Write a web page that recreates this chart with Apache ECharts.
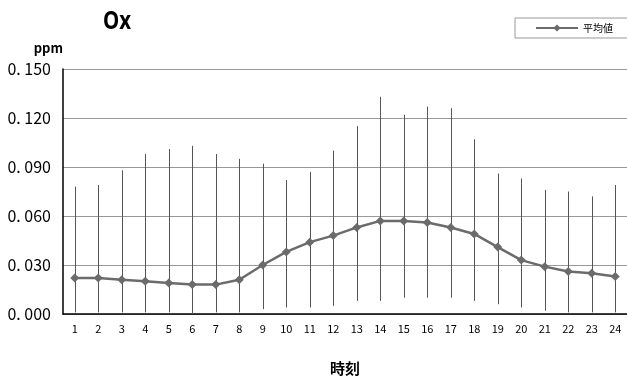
<!DOCTYPE html>
<html>
<head>
<meta charset="utf-8">
<script src="https://cdn.jsdelivr.net/npm/echarts@6/dist/echarts.min.js"></script>
<style>
html,body{margin:0;padding:0;background:#fff;}
#c{width:627px;height:380px;}
</style>
</head>
<body>
<div id="c"></div>
<script>
var hours = ['1','2','3','4','5','6','7','8','9','10','11','12','13','14','15','16','17','18','19','20','21','22','23','24'];
var meanValues = [0.022,0.022,0.021,0.020,0.019,0.018,0.018,0.021,0.030,0.038,0.044,0.048,0.053,0.057,0.057,0.056,0.053,0.049,0.041,0.033,0.029,0.026,0.025,0.023];
var maxValues = [0.078,0.079,0.088,0.098,0.101,0.103,0.098,0.095,0.092,0.082,0.087,0.100,0.115,0.133,0.122,0.127,0.126,0.107,0.086,0.083,0.076,0.075,0.072,0.079];
var minValues = [0.001,0.001,0.001,0.001,0.001,0.000,0.001,0.001,0.003,0.004,0.004,0.005,0.008,0.008,0.010,0.010,0.010,0.008,0.006,0.004,0.002,0.001,0.001,0.001];

var rangeData = hours.map(function(h, i){ return [i, minValues[i], maxValues[i]]; });

var chart = echarts.init(document.getElementById('c'), null, {renderer:'canvas'});
chart.setOption({
  animation: false,
  backgroundColor: '#fff',
  graphic: [{
    type: 'text',
    left: 103, top: 9,
    scaleX: 0.82,
    style: {text: 'Ox', fontFamily: 'Noto Sans', fontWeight: 'bold', fontSize: 25, fill: '#000'}
  }],
  legend: {
    data: ['平均値'],
    left: 515, top: 18,
    padding: [5, 40, 5, 20],
    borderColor: '#999', borderWidth: 1, borderRadius: 0,
    itemWidth: 42, itemHeight: 9, itemGap: 5,
    textStyle: {fontFamily: 'Noto Sans CJK JP', fontSize: 10, color: '#000'}
  },
  grid: {left: 63, right: 0, top: 69, bottom: 66, outerBoundsMode: 'none', containLabel: false},
  xAxis: {
    type: 'category',
    data: hours,
    boundaryGap: true,
    name: '時刻',
    nameLocation: 'middle',
    nameGap: 47,
    nameTextStyle: {fontFamily: 'Noto Sans CJK JP', fontWeight: 'bold', fontSize: 15, color: '#000'},
    axisLine: {lineStyle: {color: '#000', width: 1.5}},
    axisTick: {inside: true, length: 3, lineStyle: {color: '#777'}},
    axisLabel: {fontFamily: 'Noto Sans CJK JP', fontSize: 11, color: '#000', margin: 9, interval: 0},
    splitLine: {show: false}
  },
  yAxis: {
    type: 'value',
    min: 0, max: 0.15, interval: 0.03,
    name: 'ppm',
    nameLocation: 'end',
    nameGap: 14,
    nameTextStyle: {fontFamily: 'Noto Sans CJK JP', fontWeight: 'bold', fontSize: 13, color: '#000', align: 'right'},
    axisLine: {show: true, lineStyle: {color: '#000', width: 1.5}},
    axisTick: {show: false},
    axisLabel: {
      fontFamily: 'Noto Sans CJK JP', fontSize: 16, color: '#000', margin: 12,
      formatter: function(v){ return v.toFixed(3).replace('.', '. '); }
    },
    splitLine: {lineStyle: {color: '#999', width: 1}}
  },
  series: [
    {
      name: 'range',
      type: 'custom',
      data: rangeData,
      encode: {x: 0, y: [1, 2]},
      renderItem: function(params, api){
        var x = api.value(0);
        var p1 = api.coord([x, api.value(1)]);
        var p2 = api.coord([x, api.value(2)]);
        return {
          type: 'line',
          shape: {x1: Math.round(p1[0]) + 0.5, y1: p1[1], x2: Math.round(p2[0]) + 0.5, y2: p2[1]},
          style: {stroke: '#555', lineWidth: 1}
        };
      },
      z: 1
    },
    {
      name: '平均値',
      type: 'line',
      data: meanValues,
      symbol: 'diamond',
      symbolSize: 9,
      lineStyle: {color: '#6b6b6b', width: 2.5},
      itemStyle: {color: '#6b6b6b'},
      z: 3
    }
  ]
});
</script>
</body>
</html>
